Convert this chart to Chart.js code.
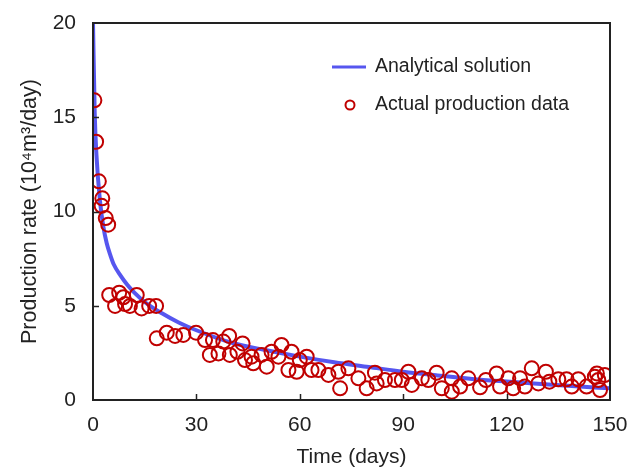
<!DOCTYPE html>
<html>
<head>
<meta charset="utf-8">
<script src="https://cdn.jsdelivr.net/npm/chart.js@4"></script>
<style>
  html, body { margin: 0; padding: 0; background: #fff; }
  #wrap { width: 629px; height: 468px; }
</style>
</head>
<body>
<div id="wrap"><canvas id="chart" width="629" height="468"></canvas></div>
<script>
// Analytical solution (curve)
const modelDays = [0, 0.5, 1, 2, 3, 4, 5, 6, 8, 10, 12, 15, 20, 25, 30, 40, 50, 60, 70, 80, 90, 100, 110, 120, 130, 140, 150];
const modelRate = [20, 15.2, 13, 10.6, 9.2, 8.3, 7.7, 7.2, 6.6, 6.1, 5.7, 5.2, 4.6, 4.1, 3.7, 3.05, 2.65, 2.3, 2.0, 1.75, 1.5, 1.3, 1.12, 0.98, 0.85, 0.73, 0.62];

// Actual production data (circles)
const actualDays = [0.4, 0.9, 1.7, 2.5, 2.7, 3.7, 4.4,
  4.7, 6.4, 7.6, 8.8, 9.3, 10.7, 12.7, 14.1, 16.3, 18.3,
  18.5, 21.4, 23.8, 26.2, 29.9, 32.5, 33.9, 34.8, 36.4, 37.8, 39.5, 39.7, 41.9, 43.4,
  44.1, 46.0, 46.5, 48.9, 50.4, 51.8, 53.8, 54.7, 56.7, 57.6, 59.1, 60.0, 62.0, 63.4,
  65.4, 68.3, 71.2, 71.7, 74.1, 77.0, 79.4, 81.8, 82.3, 84.7, 87.6, 89.6, 91.5, 92.5,
  95.4, 97.3, 99.7, 101.2, 104.1, 104.1, 106.5, 108.9, 112.3, 114.0, 117.1, 118.1,
  120.5, 121.9, 123.9, 125.3, 127.3, 129.2, 131.4, 132.4, 135.0, 137.4, 138.9, 140.8,
  143.2, 145.6, 146.2, 146.6, 147.1, 148.5];
const actualRate = [15.9, 13.7, 11.6, 10.3, 10.7, 9.65, 9.3,
  5.57, 4.99, 5.69, 5.45, 5.09, 4.99, 5.57, 4.86, 4.99, 4.99,
  3.27, 3.57, 3.4, 3.45, 3.57, 3.18, 2.39, 3.18, 2.47, 3.1, 3.4, 2.39, 2.56, 3.0,
  2.12, 2.3, 1.95, 2.39, 1.77, 2.56, 2.3, 2.92, 1.59, 2.56, 1.5, 2.12, 2.3, 1.59,
  1.59, 1.33, 1.5, 0.62, 1.68, 1.15, 0.62, 1.45, 0.88, 1.06, 1.06, 1.06, 1.5, 0.8,
  1.15, 1.06, 1.45, 0.62, 1.15, 0.44, 0.71, 1.15, 0.67, 1.06, 1.41, 0.71,
  1.15, 0.62, 1.15, 0.71, 1.68, 0.88, 1.5, 0.97, 1.1, 1.1, 0.71, 1.1,
  0.71, 1.24, 1.41, 1.06, 0.53, 1.33];

const xTicks = [0, 30, 60, 90, 120, 150];
const yTicks = [0, 5, 10, 15, 20];

const textColor = '#222';
const lineBlue = 'rgba(72, 72, 238, 0.92)';
const dotRed = '#C00000';
const font = 'Liberation Sans, Arial, sans-serif';

// frame round the plot and inward-pointing ticks
const framePlugin = {
  id: 'frame',
  afterDatasetsDraw(chart) {
    const { ctx, chartArea: a, scales } = chart;
    ctx.save();
    ctx.strokeStyle = textColor;
    ctx.lineWidth = 1.5;
    scales.x.ticks.forEach(t => {
      if (t.value <= scales.x.min || t.value >= scales.x.max) return;
      const px = Math.round(scales.x.getPixelForValue(t.value)) + 0.5;
      ctx.beginPath(); ctx.moveTo(px, a.bottom); ctx.lineTo(px, a.bottom - 6); ctx.stroke();
    });
    scales.y.ticks.forEach(t => {
      if (t.value <= scales.y.min || t.value >= scales.y.max) return;
      const py = Math.round(scales.y.getPixelForValue(t.value)) + 0.5;
      ctx.beginPath(); ctx.moveTo(a.left, py); ctx.lineTo(a.left + 6, py); ctx.stroke();
    });
    ctx.lineWidth = 2;
    ctx.strokeRect(a.left, a.top, a.right - a.left, a.bottom - a.top);
    ctx.restore();
  }
};

// legend placed inside the plot, top right
const legendPlugin = {
  id: 'innerLegend',
  afterDraw(chart) {
    const { ctx } = chart;
    const ds = chart.data.datasets;
    ctx.save();
    ctx.font = '19.5px ' + font;
    ctx.fillStyle = textColor;
    ctx.textBaseline = 'middle';
    // line entry
    ctx.strokeStyle = lineBlue;
    ctx.lineWidth = 3;
    ctx.beginPath(); ctx.moveTo(332, 67); ctx.lineTo(366, 67); ctx.stroke();
    ctx.fillText(ds[1].label, 375, 67);
    // circle entry
    ctx.strokeStyle = dotRed;
    ctx.lineWidth = 2;
    ctx.beginPath(); ctx.arc(350, 105, 4.5, 0, Math.PI * 2); ctx.stroke();
    ctx.fillText(ds[0].label, 375, 105);
    ctx.restore();
  }
};

new Chart(document.getElementById('chart'), {
  type: 'scatter',
  data: {
    datasets: [
      {
        label: 'Actual production data',
        data: actualDays.map((d, i) => ({ x: d, y: actualRate[i] })),
        borderColor: dotRed,
        backgroundColor: 'rgba(0,0,0,0)',
        borderWidth: 2,
        pointRadius: 7,
        order: 1
      },
      {
        type: 'line',
        label: 'Analytical solution',
        data: modelDays.map((d, i) => ({ x: d, y: modelRate[i] })),
        borderColor: lineBlue,
        borderWidth: 4,
        pointRadius: 0,
        fill: false,
        cubicInterpolationMode: 'monotone',
        order: 2
      }
    ]
  },
  options: {
    responsive: false,
    animation: false,
    events: [],
    layout: { padding: { top: 23, right: 19, left: 19, bottom: 0 } },
    plugins: { legend: { display: false }, tooltip: { enabled: false } },
    scales: {
      x: {
        type: 'linear',
        min: 0, max: 150,
        afterBuildTicks: s => { s.ticks = xTicks.map(v => ({ value: v })); },
        afterFit: s => { s.height = 68; s.paddingLeft = 0; s.paddingRight = 0; },
        grid: { display: false, drawTicks: false },
        border: { display: false },
        ticks: { color: textColor, font: { family: font, size: 21 }, padding: 13, maxRotation: 0 },
        title: { display: true, text: 'Time (days)', color: textColor, font: { family: font, size: 21, lineHeight: 1 }, padding: { top: 0, bottom: 0 } }
      },
      y: {
        min: 0, max: 20,
        afterBuildTicks: s => { s.ticks = yTicks.map(v => ({ value: v })); },
        afterFit: s => { s.width = 74; s.paddingTop = 0; s.paddingBottom = 0; },
        grid: { display: false, drawTicks: false },
        border: { display: false },
        ticks: { color: textColor, font: { family: font, size: 21 }, padding: 17 },
        title: { display: true, text: 'Production rate (10⁴m³/day)', color: textColor, font: { family: font, size: 21.5, lineHeight: 1 }, padding: { top: 0, bottom: 0 } }
      }
    }
  },
  plugins: [framePlugin, legendPlugin]
});
</script>
</body>
</html>
